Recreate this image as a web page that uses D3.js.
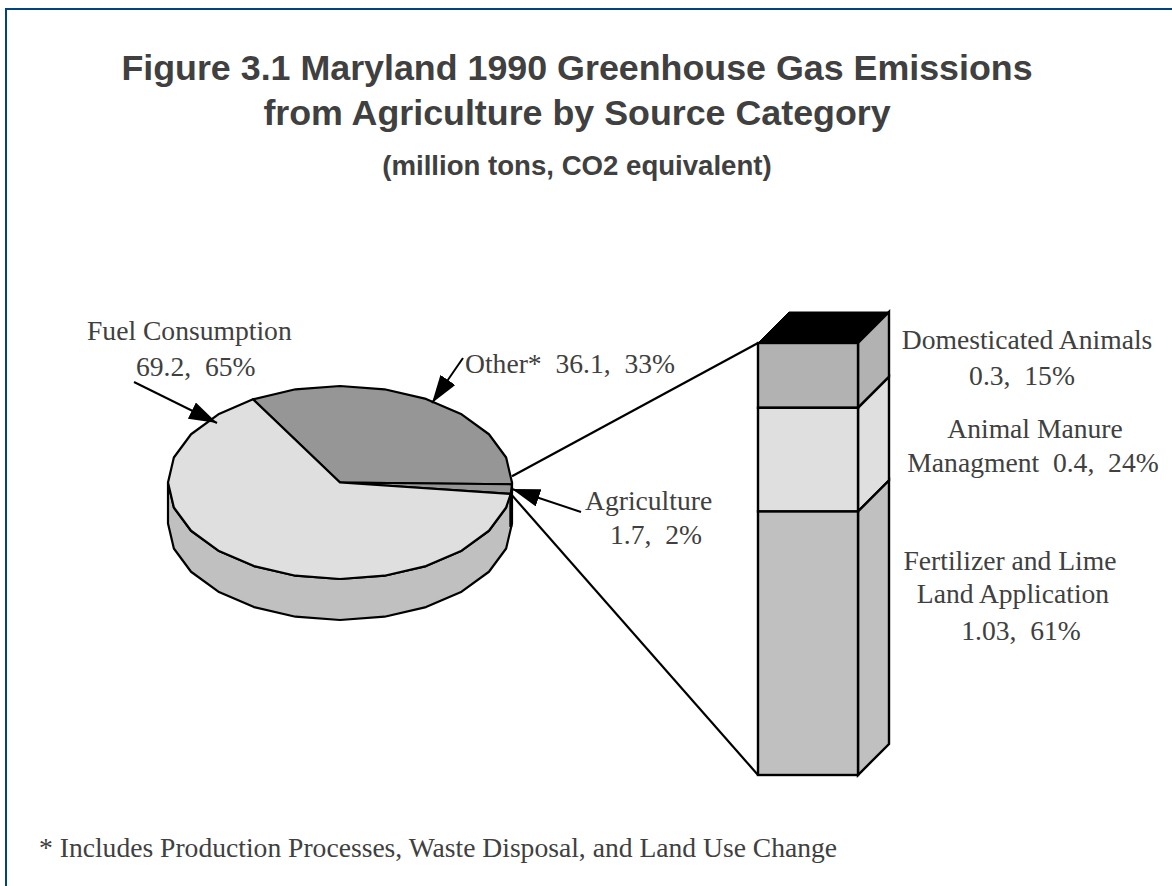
<!DOCTYPE html>
<html>
<head>
<meta charset="utf-8">
<script src="https://cdnjs.cloudflare.com/ajax/libs/d3/7.8.5/d3.min.js"></script>
<style>
  html, body { margin: 0; padding: 0; background: #fff; }
  svg { display: block; }
  .title { font-family: "Liberation Sans", sans-serif; font-weight: bold; fill: #404040; text-anchor: middle; }
  .label { font-family: "Liberation Serif", serif; font-size: 27.6px; fill: #404040; }
</style>
</head>
<body>
<div id="chart"></div>
<script>
// Pie: share of all state emissions, million tons
const pieCategories = ["Other", "Agriculture", "Fuel Consumption"];
const pieValues = [36.1, 1.7, 69.2];
const pieColors = ["#969696", "#969696", "#dfdfdf"];

// Column: breakdown of the agriculture slice, percent
const stackCategories = ["Domesticated Animals", "Animal Manure Managment", "Fertilizer and Lime Land Application"];
const stackPercents = [15, 24, 61];
const stackColors = ["#b2b2b2", "#dfdfdf", "#c0c0c0"];

const titleLines = ["Figure 3.1 Maryland 1990 Greenhouse Gas Emissions", "from Agriculture by Source Category"];
const subtitle = "(million tons, CO2 equivalent)";
const footnote = "* Includes Production Processes, Waste Disposal, and Land Use Change";

const width = 1172, height = 886;

const svg = d3.select("#chart").append("svg")
    .attr("width", width)
    .attr("height", height)
    .attr("viewBox", `0 0 ${width} ${height}`);

// Frame only runs along the top and left
svg.append("path")
    .attr("d", `M6,${height} V9 H${width}`)
    .attr("fill", "none")
    .attr("stroke", "#00437f")
    .attr("stroke-width", 2);

svg.selectAll(".title-line")
    .data(titleLines)
    .enter().append("text")
    .attr("class", "title title-line")
    .attr("x", 577)
    .attr("y", (d, i) => 80 + i * 45)
    .style("font-size", "35.8px")
    .text(d => d);

svg.append("text")
    .attr("class", "title")
    .attr("x", 577)
    .attr("y", 175)
    .style("font-size", "27.6px")
    .text(subtitle);

// Pie drawn as a flattened disc, outline sampled coarsely
const pieX = d3.scaleLinear().domain([-1, 1]).range([168, 512]);
const pieY = d3.scaleLinear().domain([-1, 1]).range([386, 579]);
const pieDepth = 41;
const arcStep = Math.PI / 12;

const pieStart = -30.4 * Math.PI / 180;
const slices = d3.pie().sort(null)
    .startAngle(pieStart)
    .endAngle(pieStart + 2 * Math.PI)(pieValues);

function rimPoints(a0, a1) {
    const pts = [];
    const first = Math.ceil(a0 / arcStep) * arcStep;
    pts.push(a0);
    for (let a = first; a < a1; a += arcStep) {
        if (a > a0 + 0.01 && a < a1 - 0.01) pts.push(a);
    }
    pts.push(a1);
    return pts.map(a => [pieX(Math.sin(a)), pieY(-Math.cos(a))]);
}

const outline = d3.line().curve(d3.curveLinearClosed);

// Visible wall below the rim, from the right edge round to the left edge
const wallPts = rimPoints(Math.PI / 2, 3 * Math.PI / 2);
const wall = wallPts.concat(wallPts.slice().reverse().map(p => [p[0], p[1] + pieDepth]));

svg.append("path")
    .attr("d", outline(wall))
    .attr("fill", "#c0c0c0")
    .attr("stroke", "#000")
    .attr("stroke-width", 2.2)
    .attr("stroke-linejoin", "round");

svg.selectAll(".slice")
    .data(slices)
    .enter().append("path")
    .attr("class", "slice")
    .attr("d", d => outline([[pieX(0), pieY(0)]].concat(rimPoints(d.startAngle, d.endAngle))))
    .attr("fill", (d, i) => pieColors[i])
    .attr("stroke", "#000")
    .attr("stroke-width", 2.2)
    .attr("stroke-linejoin", "round");

// Heavy edge where the agriculture slice meets the wall
const agri = slices[1];
const agriEnd = rimPoints(agri.startAngle, agri.endAngle).pop();
svg.append("line")
    .attr("x1", agriEnd[0]).attr("y1", agriEnd[1])
    .attr("x2", agriEnd[0]).attr("y2", agriEnd[1] + pieDepth - 8)
    .attr("stroke", "#000")
    .attr("stroke-width", 3);

// Stacked column with side and top faces
const stackY = d3.scaleLinear().domain([0, 100]).range([343, 775]);
const stackLeft = 758, stackRight = 858;
const sideDx = 31, sideDy = -31;

let running = 0;
const stackRows = stackPercents.map((p, i) => {
    const row = { y0: running, y1: running + p, color: stackColors[i] };
    running += p;
    return row;
});

const faces = svg.append("g");
faces.selectAll(".side")
    .data(stackRows)
    .enter().append("path")
    .attr("class", "side")
    .attr("d", d => outline([
        [stackRight, stackY(d.y0)],
        [stackRight + sideDx, stackY(d.y0) + sideDy],
        [stackRight + sideDx, stackY(d.y1) + sideDy],
        [stackRight, stackY(d.y1)]
    ]))
    .attr("fill", d => d.color)
    .attr("stroke", "#000")
    .attr("stroke-width", 2.4);

faces.selectAll(".front")
    .data(stackRows)
    .enter().append("rect")
    .attr("class", "front")
    .attr("x", stackLeft)
    .attr("y", d => stackY(d.y0))
    .attr("width", stackRight - stackLeft)
    .attr("height", d => stackY(d.y1) - stackY(d.y0))
    .attr("fill", d => d.color)
    .attr("stroke", "#000")
    .attr("stroke-width", 2.4);

faces.append("path")
    .attr("d", outline([
        [stackLeft, stackY(0)],
        [stackLeft + sideDx, stackY(0) + sideDy],
        [stackRight + sideDx, stackY(0) + sideDy],
        [stackRight, stackY(0)]
    ]))
    .attr("fill", "#000")
    .attr("stroke", "#000");

// Lines tying the agriculture slice to the column
const agriRim = rimPoints(agri.startAngle, agri.endAngle);
const connectors = [
    [agriRim[0][0], agriRim[0][1] - 8, stackLeft, stackY(0)],
    [agriEnd[0], agriEnd[1], stackLeft, stackY(100)]
];
svg.selectAll(".connector")
    .data(connectors)
    .enter().append("line")
    .attr("class", "connector")
    .attr("x1", d => d[0]).attr("y1", d => d[1])
    .attr("x2", d => d[2]).attr("y2", d => d[3])
    .attr("stroke", "#000")
    .attr("stroke-width", 2.2);

// Callout arrows
svg.append("defs").append("marker")
    .attr("id", "head")
    .attr("viewBox", "0 0 28 18")
    .attr("refX", 28)
    .attr("refY", 9)
    .attr("markerWidth", 28)
    .attr("markerHeight", 18)
    .attr("markerUnits", "userSpaceOnUse")
    .attr("orient", "auto")
    .append("path")
    .attr("d", "M0,0 L28,9 L0,18 Z")
    .attr("fill", "#000");

const arrows = [
    [134, 382, 217, 423],
    [463, 358, 432, 403],
    [581, 512, 512, 489]
];
svg.selectAll(".arrow")
    .data(arrows)
    .enter().append("line")
    .attr("class", "arrow")
    .attr("x1", d => d[0]).attr("y1", d => d[1])
    .attr("x2", d => d[2]).attr("y2", d => d[3])
    .attr("stroke", "#000")
    .attr("stroke-width", 2)
    .attr("marker-end", "url(#head)");

// Labels: [text, x, baseline y, anchor]
const labels = [
    ["Fuel Consumption", 87, 340, "start"],
    ["69.2,  65%", 136, 376, "start"],
    ["Other*  36.1,  33%", 465, 373, "start"],
    ["Agriculture", 585, 510, "start"],
    ["1.7,  2%", 610, 544, "start"],
    ["Domesticated Animals", 1027, 349, "middle"],
    ["0.3,  15%", 1022, 385, "middle"],
    ["Animal Manure", 1035, 438, "middle"],
    ["Managment  0.4,  24%", 1033, 472, "middle"],
    ["Fertilizer and Lime", 1010, 570, "middle"],
    ["Land Application", 1013, 603, "middle"],
    ["1.03,  61%", 1021, 640, "middle"]
];
svg.selectAll(".label")
    .data(labels)
    .enter().append("text")
    .attr("class", "label")
    .attr("x", d => d[1])
    .attr("y", d => d[2])
    .attr("text-anchor", d => d[3])
    .style("white-space", "pre")
    .text(d => d[0]);

svg.append("text")
    .attr("class", "label")
    .attr("x", 39)
    .attr("y", 857)
    .text(footnote);
</script>
</body>
</html>
